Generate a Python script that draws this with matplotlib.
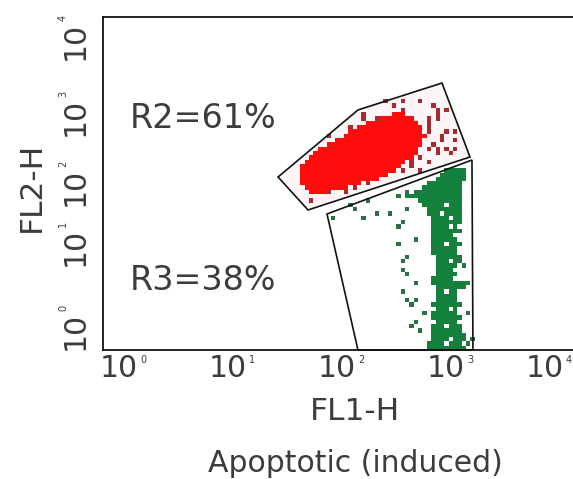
import numpy as np
import matplotlib
matplotlib.use("Agg")
import matplotlib.pyplot as plt
from matplotlib.colors import ListedColormap

# dot-plot density, top row first
# R = red core, r = red sparse, G = green core, g = green sparse
grid_rows = [
    "..... ..... ..... ..... ..... ..... ..... ..... .....",
    "..... ..... ..... ..... ..... ..... ..... ..... .....",
    "..... ..... ..... ..... ..... ..... ..... ..... .....",
    "..... ..... ..... ..... ..... ..... ..... ..... .....",
    "..... ..... ..... ..... ...r. ..r.. .r... ..... .....",
    "..... ..... ..... ..... ..... r.... ....r ..... .....",
    "..... ..... ..... ..... ..... ..r.. ..... r.r.. .....",
    "..... ..... ..... ...r. ..... RRR.. ..... r.... .....",
    "..... ..... ..... ...r. .rRRR RRRRR ...r. r.... .....",
    "..... ..... ..... ....R RRRRR RRRRR R..r. ..... .....",
    "..... ..... ..... r.RRR RRRRR RRRRR RR.r. ..... .....",
    "..... ..... ..... RRRRR RRRRR RRRRR RR.r. ..r.r .....",
    "..... ..... r...R RRRRR RRRRR RRRRR RRR.. .r... .....",
    "..... ..... ..RRR RRRRR RRRRR RRRRR RR... .r..r .....",
    "..... ..... RRRRR RRRRR RRRRR RRRRR RR..r ..... .....",
    "..... ...RR RRRRR RRRRR RRRRR RRRRR R..r. r.r.r .....",
    "..... ..RRR RRRRR RRRRR RRRRR RRRRR R.... r..r. .....",
    "..... .RRRR RRRRR RRRRR RRRRR RRRRR .r... ..... .....",
    "..... RRRRR RRRRR RRRRR RRRRR RRR.r ...r. ..... .....",
    "....R RRRRR RRRRR RRRRR RRRRR RR..r ..... ..... .....",
    "....R RRRRR RRRRR RRRRR RRRRR R.r.. .r... ..GGG GG...",
    "....R RRRRR RRRRR RRRRR RRRR. ..... ..... .GGGG GG...",
    "....R RRRRR RRRRR RRRRR RR... ..... ..... GGGGG GG...",
    "....R RRRRR RRRRR RRR.r ..... ..... ...GG GGGGG G....",
    "..... RRRRR RRRRR .r... ..... ..... ..GGG GGGGG G....",
    "..... .RRRR r...r ..... ..... ...g. gGGGG GGGGG G....",
    "..... ..... ..... ..... ..... .g.GG GGGGG GGGGG G....",
    "..... .r... ..... ....g ..... ..... .GGGG GGGGG G....",
    "..... ..... ..... g.... ..... ..... ..GGG GG.GG G....",
    "..... ..... ..... .g... ..... ...g. ...GG GGGGG G....",
    "..... ..... ..... ..... .g..g ..... ...GG G.GGG G....",
    "..... ..... .g... ...g. ..... ..... ....G GGG.G G....",
    "..... ..... ..... ..... ..... ..g.. ....G GGGGG G....",
    "..... ..... ..... ..... ..... .g... ....G GGG.G .....",
    "..... ..... ..... ..... ..... ..... ....G GGGGG g....",
    "..... ..... ..... ..... ..... ..... ....G GGGG. .....",
    "..... ..... ..... ..... ..... ..... g...G GGGGG .....",
    "..... ..... ..... ..... ..... .g... ....G GG.GG G....",
    "..... ..... ..... ..... ..... ..... ....g GGGGG .....",
    "..... ..... ..... ..... ..... ..... ....G GGGGG .....",
    "..... ..... ..... ..... ..... ...g. ..... GGGGG g....",
    "..... ..... ..... ..... ..... ..g.. ..... GGG.G g....",
    "..... ..... ..... ..... ..... ..... ..... GGGGG .g...",
    "..... ..... ..... ..... ..... ..g.. ..... GGGG. .....",
    "..... ..... ..... ..... ..... ...g. ..... GGGGG .....",
    "..... ..... ..... ..... ..... ..... ....G GGGG. .....",
    "..... ..... ..... ..... ..... ..... g...G GGGGG GGG..",
    "..... ..... ..... ..... ..... ..... ..... GGGGG GG...",
    "..... ..... ..... ..... ..... ..g.. ..... GG.GG .....",
    "..... ..... ..... ..... ..... ..... ..... GGGGG .....",
    "..... ..... ..... ..... ..... ...g. g.... GGGGG .....",
    "..... ..... ..... ..... ..... ....g ....G GGGGG g....",
    "..... ..... ..... ..... ..... ..... ..... GGG.G .....",
    "..... ..... ..... ..... ..... ..... ..g.G GGGGG ..g..",
    "..... ..... ..... ..... ..... ..... ....G GGGGG G....",
    "..... ..... ..... ..... ..... ..... g.... GGGGG .....",
    "..... ..... ..... ..... ..... ....g ....G GG.GG G....",
    "..... ..... ..... ..... ..... ..... .g..G GGGGG G....",
    "..... ..... ..... ..... ..... ..... ....G GGGGG GG...",
    "..... ..... ..... ..... ..... ..... ....G GGG.G Gg.g.",
    "..... ..... ..... ..... ..... ..... ...GG GG.GG G.g..",
    "..... ..... ..... ..... ..... ..... ...GG GGGGG GG...",
]
# grid binning, in decades (log10 units)
cell_x0 = 1.651
cell_dx = 0.04
cell_dy = 0.052
cell_codes = {"R": 0, "r": 1, "G": 2, "g": 3}
cell_colors = ["#ff0c0c", "#a62a30", "#13813c", "#2c7046"]

# gates, log10 units
r2_x = [1.606, 2.339, 3.110, 3.367, 1.881]
r2_y = [2.078, 2.883, 3.207, 2.318, 1.682]
r3_x = [2.055, 3.385, 3.394, 2.339]
r3_y = [1.634, 2.282, 0.0, 0.0]

x_decades = [0, 1, 2, 3, 4]
y_exponents = ["0", "1", "2", "3", "4"]
# the y labels sit unevenly in the original
y_label_at = [0.036, 1.045, 1.766, 2.607, 3.52]
x_nudge = [0, 0, 0, 0, -10]  # last one pulled in so it stays on the page

txt = "#3c3c3c"
plt.rcParams["font.family"] = ["DejaVu Sans"]

fig = plt.figure(figsize=(5.73, 4.79), dpi=100)
ax = fig.add_axes([103 / 573, 129 / 479, 470 / 573, 333 / 479])
ax.set_xlim(0, 470 / 109)
ax.set_ylim(0, 4)
ax.set_xticks([])
ax.set_yticks([])
ax.spines["right"].set_visible(False)
for s in ["left", "top", "bottom"]:
    ax.spines[s].set_linewidth(1.3)
    ax.spines[s].set_color("#111111")

rows = [r.replace(" ", "") for r in grid_rows]
dens = np.full((len(rows), len(rows[0])), np.nan)
for i, row in enumerate(rows):
    for j, ch in enumerate(row):
        if ch in cell_codes:
            dens[i, j] = cell_codes[ch]
dens = dens[::-1]
xe = cell_x0 + cell_dx * np.arange(dens.shape[1] + 1)
ye = cell_dy * np.arange(dens.shape[0] + 1)

ax.fill(r2_x, r2_y, color="#fef6f6", lw=0, zorder=1)
ax.pcolormesh(xe, ye, np.ma.masked_invalid(dens), cmap=ListedColormap(cell_colors),
              vmin=-0.5, vmax=3.5, shading="flat", zorder=2)
ax.fill(r2_x, r2_y, fill=False, ec="#111111", lw=1.2, zorder=3)
ax.fill(r3_x, r3_y, fill=False, ec="#111111", lw=1.2, zorder=3, clip_on=False)

for d, e, nx in zip(x_decades, y_exponents, x_nudge):
    ax.annotate("10", xy=(d, 0), xycoords=("data", "axes fraction"), xytext=(-3 + nx, -4),
                textcoords="offset pixels", ha="left", va="top", fontsize=21.5,
                color=txt, annotation_clip=False)
    ax.annotate(e, xy=(d, 0), xycoords=("data", "axes fraction"), xytext=(37 + nx, -5),
                textcoords="offset pixels", ha="left", va="top", fontsize=7,
                color=txt, annotation_clip=False)

for y, e in zip(y_label_at, y_exponents):
    ax.annotate("10", xy=(0, y), xycoords=("axes fraction", "data"), xytext=(-13, -3),
                textcoords="offset pixels", ha="right", va="bottom", rotation=90,
                fontsize=21.5, color=txt, annotation_clip=False)
    ax.annotate(e, xy=(0, y), xycoords=("axes fraction", "data"), xytext=(-45, 36),
                textcoords="offset pixels", ha="left", va="bottom", rotation=90,
                fontsize=7, color=txt, annotation_clip=False)

fig.text(130 / 573, 1 - 128 / 479, "R2=61%", fontsize=24, color=txt, ha="left", va="baseline")
fig.text(130 / 573, 1 - 290 / 479, "R3=38%", fontsize=24, color=txt, ha="left", va="baseline")
fig.text(355 / 573, 1 - 420 / 479, "FL1-H", fontsize=22.5, color=txt, ha="center", va="baseline")
fig.text(355 / 573, 1 - 472 / 479, "Apoptotic (induced)", fontsize=21.5, color=txt,
         ha="center", va="baseline")
fig.text(40 / 573, 1 - 187 / 479, "FL2-H", fontsize=22.5, color=txt, rotation=90,
         ha="center", va="baseline", rotation_mode="anchor")

fig.savefig("out.png", dpi=100)
